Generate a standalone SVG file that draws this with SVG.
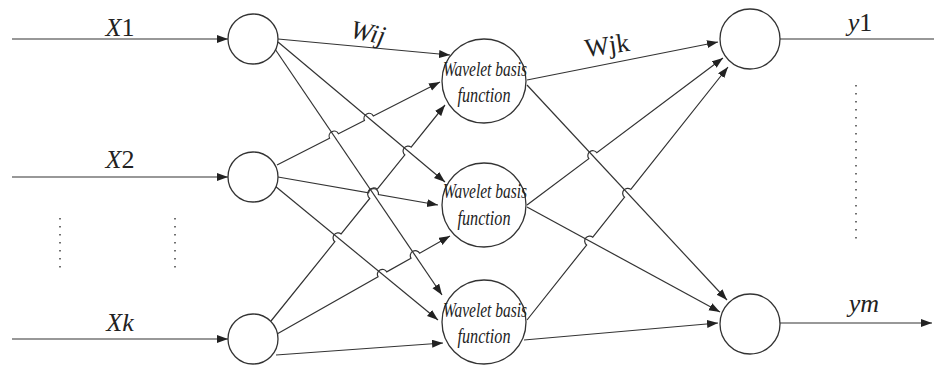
<svg xmlns="http://www.w3.org/2000/svg" width="934" height="365" viewBox="0 0 934 365">
<defs>
<marker id="arr" markerWidth="12" markerHeight="9" refX="11" refY="4" orient="auto" markerUnits="userSpaceOnUse">
<path d="M0,0 L11,4 L0,8 z" fill="#222"/>
</marker>
<style>
.node{fill:#fff;stroke:#333;stroke-width:1.3}
.conn{fill:none;stroke:#333;stroke-width:1.2}
.dot{fill:none;stroke:#333;stroke-width:1.4;stroke-dasharray:1.5,6.5}
.lbl{font-family:"Liberation Serif",serif;font-size:26px;fill:#222}
.it{font-style:italic}
.wb{font-family:"Liberation Serif",serif;font-style:italic;font-size:20px;fill:#222;text-anchor:middle}
</style>
</defs>
<rect width="934" height="365" fill="#fff"/>
<g id="connectors">
<path class="conn" d="M12,39 L228,39" marker-end="url(#arr)"/>
<path class="conn" d="M12,177 L228,177" marker-end="url(#arr)"/>
<path class="conn" d="M12,339 L228,339" marker-end="url(#arr)"/>
<path class="conn" d="M278,39 L450,55" marker-end="url(#arr)"/>
<path class="conn" d="M278,42 L445,182" marker-end="url(#arr)"/>
<path class="conn" d="M275,49 L442,295" marker-end="url(#arr)"/>
<path class="conn" d="M277,165 L329.55,138.27 A5,5 0 0 1 338.45,133.73 L364.45,120.47 A5,5 0 0 1 373.35,115.93 L440,82" marker-end="url(#arr)"/>
<path class="conn" d="M278,177 L368.57,192.84 A5,5 0 0 1 378.43,194.56 L438,205" marker-end="url(#arr)"/>
<path class="conn" d="M275,186 L438,320" marker-end="url(#arr)"/>
<path class="conn" d="M271,321 L334.86,241.69 A5,5 0 0 1 341.14,233.91 L369.74,198.47 A6,6 0 0 1 377.26,189.13 L404.86,154.89 A5,5 0 0 1 411.14,147.11 L445,105" marker-end="url(#arr)"/>
<path class="conn" d="M277,334 L378.05,276.77 A5,5 0 0 1 386.75,271.83 L410.95,258.17 A5,5 0 0 1 419.65,253.23 L450,236" marker-end="url(#arr)"/>
<path class="conn" d="M276,355 L443,343" marker-end="url(#arr)"/>
<path class="conn" d="M527,80 L718,42" marker-end="url(#arr)"/>
<path class="conn" d="M527,85 L727,300" marker-end="url(#arr)"/>
<path class="conn" d="M527,205 L588.8,158.7 A5,5 0 0 1 596.8,152.7 L723,58" marker-end="url(#arr)"/>
<path class="conn" d="M527,207 L720,312" marker-end="url(#arr)"/>
<path class="conn" d="M527,320 L586.59,245.02 A5,5 0 0 1 592.81,237.18 L624.59,197.22 A5,5 0 0 1 630.81,189.38 L728,67" marker-end="url(#arr)"/>
<path class="conn" d="M524,340 L718,323" marker-end="url(#arr)"/>
<path class="conn" d="M780,39 L934,39"/>
<path class="conn" d="M780,323 L932,323" marker-end="url(#arr)"/>
</g>
<g id="dots">
<path class="dot" d="M60,218 L60,274"/>
<path class="dot" d="M175,218 L175,274"/>
<path class="dot" d="M856,85 L856,245"/>
</g>
<g id="labels">
<text class="lbl" x="120" y="36" text-anchor="middle"><tspan class="it">X</tspan>1</text>
<text class="lbl" x="120" y="168" text-anchor="middle"><tspan class="it">X</tspan>2</text>
<text class="lbl" x="120" y="331" text-anchor="middle" font-style="italic">Xk</text>
<text class="lbl" x="860" y="31" text-anchor="middle"><tspan class="it">y</tspan>1</text>
<text class="lbl" x="864" y="312" text-anchor="middle" font-style="italic">ym</text>
<text class="lbl" x="368" y="41" text-anchor="middle" font-style="italic" transform="rotate(12 368 33)">Wij</text>
<text class="lbl" x="607" y="54" text-anchor="middle" transform="rotate(-8 607 46)">Wjk</text>
</g>
<g id="in1"><circle class="node" cx="253" cy="39" r="25"/></g>
<g id="in2"><circle class="node" cx="253" cy="177" r="25"/></g>
<g id="ink"><circle class="node" cx="253" cy="339" r="25"/></g>
<g id="h1"><circle class="node" cx="484" cy="81" r="42"/><text class="wb" x="485" y="76" textLength="84" lengthAdjust="spacingAndGlyphs">Wavelet basis</text><text class="wb" x="484" y="102" textLength="53" lengthAdjust="spacingAndGlyphs">function</text></g>
<g id="h2"><circle class="node" cx="484" cy="205" r="42"/><text class="wb" x="485" y="198" textLength="84" lengthAdjust="spacingAndGlyphs">Wavelet basis</text><text class="wb" x="484" y="225" textLength="53" lengthAdjust="spacingAndGlyphs">function</text></g>
<g id="h3"><circle class="node" cx="484" cy="322" r="42"/><text class="wb" x="485" y="317" textLength="84" lengthAdjust="spacingAndGlyphs">Wavelet basis</text><text class="wb" x="484" y="343" textLength="53" lengthAdjust="spacingAndGlyphs">function</text></g>
<g id="out1"><circle class="node" cx="750" cy="39" r="30"/></g>
<g id="outm"><circle class="node" cx="750" cy="324" r="30"/></g>
</svg>
